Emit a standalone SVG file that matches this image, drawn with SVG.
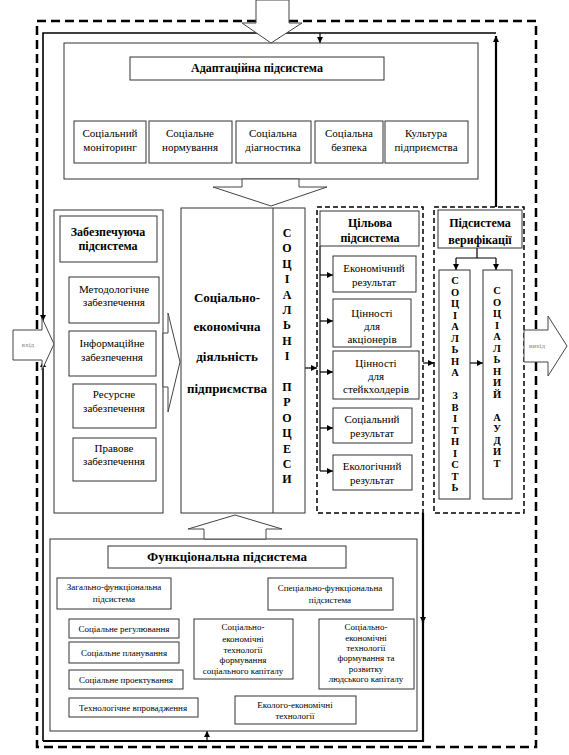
<svg xmlns="http://www.w3.org/2000/svg" width="569" height="755" viewBox="0 0 569 755">
<defs>
<style>
.box{fill:#fff;stroke:#333;stroke-width:1}
.t{font-family:"Liberation Serif","Times New Roman",serif;font-size:11px;text-anchor:middle;fill:#000}
.b{font-weight:bold}
.s{font-size:9px}
.vt{font-family:"Liberation Serif","Times New Roman",serif;font-weight:bold;text-anchor:middle;fill:#000}
.c{stroke:#000;stroke-width:1.2;fill:none}
.th{stroke:#000;stroke-width:2.2;fill:none}
.blk{fill:#fff;stroke:#444;stroke-width:1}
.dsh{fill:none;stroke:#000;stroke-width:1.5;stroke-dasharray:5 3}
.io{font-family:"Liberation Serif",serif;font-size:7px;text-anchor:middle;fill:#888}
</style>
<marker id="ah" viewBox="0 0 10 10" refX="10" refY="5" markerWidth="7" markerHeight="6" markerUnits="userSpaceOnUse" orient="auto"><path d="M0,0L10,5L0,10z" fill="#000"/></marker>
</defs>
<rect width="569" height="755" fill="#fff"/>

<g id="outer-frame">
<rect x="37" y="21" width="499" height="726" fill="none" stroke="#000" stroke-width="2.5" stroke-dasharray="9 5"/>
</g>

<g id="connectors">
<path class="th" d="M496,207 V36" marker-end="url(#ah)"/>
<path class="c" d="M496,33 H43 V321" marker-end="url(#ah)" style="stroke-width:1.6"/>
<path class="c" d="M320,33 V43" marker-end="url(#ah)"/>
<path class="th" d="M423,513 V623" marker-end="url(#ah)"/>
<path class="th" d="M423,620 V741 H43"/>
<path class="c" d="M43,741 V361" marker-end="url(#ah)" style="stroke-width:1.6"/>
<path class="c" d="M207,741 V731" marker-end="url(#ah)"/>
<path class="c" d="M245,80 V99 M115,99 H439"/>
<path class="c" d="M115,99 V121" marker-end="url(#ah)"/>
<path class="c" d="M194,99 V121" marker-end="url(#ah)"/>
<path class="c" d="M270,99 V121" marker-end="url(#ah)"/>
<path class="c" d="M350,99 V121" marker-end="url(#ah)"/>
<path class="c" d="M439,99 V121" marker-end="url(#ah)"/>
<path class="c" d="M60,262 V466"/>
<path class="c" d="M60,297 H69" marker-end="url(#ah)"/>
<path class="c" d="M60,344 H69" marker-end="url(#ah)"/>
<path class="c" d="M60,400 H73" marker-end="url(#ah)"/>
<path class="c" d="M60,466 H73" marker-end="url(#ah)"/>
<path class="c" d="M305,368 H317" marker-end="url(#ah)"/>
<path class="c" d="M320,246 V471"/>
<path class="c" d="M320,275 H333" marker-end="url(#ah)"/>
<path class="c" d="M320,321 H333" marker-end="url(#ah)"/>
<path class="c" d="M320,372 H333" marker-end="url(#ah)"/>
<path class="c" d="M320,428 H333" marker-end="url(#ah)"/>
<path class="c" d="M320,471 H333" marker-end="url(#ah)"/>
<path class="c" d="M423,363 H434" marker-end="url(#ah)"/>
<path class="c" d="M477,248 V258 M456,258 H496"/>
<path class="c" d="M456,258 V270" marker-end="url(#ah)"/>
<path class="c" d="M496,258 V270" marker-end="url(#ah)"/>
<path class="c" d="M470,363 H483" marker-end="url(#ah)"/>
<path class="c" d="M173,568 L148,577" marker-end="url(#ah)"/>
<path class="c" d="M258,568 L295,578" marker-end="url(#ah)"/>
<path class="c" d="M57,609 V707"/>
<path class="c" d="M57,632 H69" marker-end="url(#ah)"/>
<path class="c" d="M57,653 H69" marker-end="url(#ah)"/>
<path class="c" d="M57,679 H69" marker-end="url(#ah)"/>
<path class="c" d="M57,707 H69" marker-end="url(#ah)"/>
<path class="c" d="M308,610 V696" marker-end="url(#ah)"/>
<path class="c" d="M308,638 H293" marker-end="url(#ah)"/>
<path class="c" d="M308,650 H319" marker-end="url(#ah)"/>
</g>

<g id="adaptation">
<rect class="box" x="64" y="43" width="414" height="136"/>
<rect class="box" x="130" y="57" width="254" height="23"/>
<text class="t b" x="257" y="72" style="font-size:12px">Адаптаційна  підсистема</text>
<rect class="box" x="74" y="121" width="72" height="42"/>
<text class="t" x="110" y="137">Соціальний</text><text class="t" x="110" y="151">моніторинг</text>
<rect class="box" x="149" y="121" width="83" height="42"/>
<text class="t" x="190" y="137">Соціальне</text><text class="t" x="190" y="151">нормування</text>
<rect class="box" x="236" y="121" width="75" height="42"/>
<text class="t" x="273" y="137">Соціальна</text><text class="t" x="273" y="151">діагностика</text>
<rect class="box" x="315" y="121" width="68" height="42"/>
<text class="t" x="349" y="137">Соціальна</text><text class="t" x="349" y="151">безпека</text>
<rect class="box" x="385" y="121" width="83" height="42"/>
<text class="t" x="426" y="137">Культура</text><text class="t" x="426" y="151">підприємства</text>
</g>

<g id="supporting">
<rect class="box" x="54" y="210" width="109" height="303"/>
<rect class="box" x="60" y="216" width="97" height="46"/>
<text class="t b" x="108" y="236" style="font-size:12px">Забезпечуюча</text>
<text class="t b" x="108" y="250" style="font-size:12px">підсистема</text>
<rect class="box" x="69" y="277" width="90" height="46"/>
<text class="t" x="114" y="293">Методологічне</text><text class="t" x="114" y="306">забезпечення</text>
<rect class="box" x="69" y="331" width="87" height="45"/>
<text class="t" x="112" y="347">Інформаційне</text><text class="t" x="112" y="361">забезпечення</text>
<rect class="box" x="73" y="384" width="83" height="44"/>
<text class="t" x="114" y="398">Ресурсне</text><text class="t" x="114" y="412">забезпечення</text>
<rect class="box" x="73" y="438" width="83" height="43"/>
<text class="t" x="114" y="452">Правове</text><text class="t" x="114" y="465">забезпечення</text>
</g>

<g id="central">
<rect class="box" x="181" y="208" width="124" height="305"/>
<line x1="273" y1="208" x2="273" y2="513" stroke="#333"/>
<text class="t b" x="227" y="302" style="font-size:13px">Соціально-</text>
<text class="t b" x="227" y="331" style="font-size:13px">економічна</text>
<text class="t b" x="227" y="361" style="font-size:13px">діяльність</text>
<text class="t b" x="227" y="393" style="font-size:13px">підприємства</text>
<text class="vt" style="font-size:12px"><tspan x="287" y="237">С</tspan><tspan x="287" y="252.4">О</tspan><tspan x="287" y="267.8">Ц</tspan><tspan x="287" y="283.2">І</tspan><tspan x="287" y="298.6">А</tspan><tspan x="287" y="314">Л</tspan><tspan x="287" y="329.4">Ь</tspan><tspan x="287" y="344.8">Н</tspan><tspan x="287" y="360.2">І</tspan><tspan x="287" y="391">П</tspan><tspan x="287" y="406.4">Р</tspan><tspan x="287" y="421.8">О</tspan><tspan x="287" y="437.2">Ц</tspan><tspan x="287" y="452.6">Е</tspan><tspan x="287" y="468">С</tspan><tspan x="287" y="483.4">И</tspan></text>
</g>

<g id="target">
<rect class="dsh" x="317" y="207" width="106" height="306"/>
<rect class="box" x="320" y="211" width="99" height="35"/>
<text class="t b" x="370" y="227" style="font-size:12px">Цільова</text>
<text class="t b" x="370" y="242" style="font-size:12px">підсистема</text>
<rect class="box" x="333" y="256" width="83" height="36"/>
<text class="t" x="374" y="272">Економічний</text><text class="t" x="374" y="286">результат</text>
<rect class="box" x="333" y="299" width="78" height="48"/>
<text class="t" x="372" y="317">Цінності</text><text class="t" x="372" y="330">для</text><text class="t" x="372" y="343">акціонерів</text>
<rect class="box" x="333" y="351" width="86" height="48"/>
<text class="t" x="376" y="367">Цінності</text><text class="t" x="376" y="380">для</text><text class="t" x="376" y="393">стейкхолдерів</text>
<rect class="box" x="333" y="408" width="79" height="35"/>
<text class="t" x="372" y="423">Соціальний</text><text class="t" x="372" y="437">результат</text>
<rect class="box" x="333" y="455" width="79" height="35"/>
<text class="t" x="372" y="470">Екологічний</text><text class="t" x="372" y="484">результат</text>
</g>

<g id="verification">
<rect class="dsh" x="434" y="207" width="90" height="306"/>
<rect class="box" x="438" y="210" width="84" height="38"/>
<text class="t b" x="480" y="227" style="font-size:12px">Підсистема</text>
<text class="t b" x="480" y="244" style="font-size:12px">верифікації</text>
<rect class="box" x="439" y="270" width="31" height="229"/>
<text class="vt" style="font-size:10.5px"><tspan x="455" y="284">С</tspan><tspan x="455" y="295.5">О</tspan><tspan x="455" y="307">Ц</tspan><tspan x="455" y="318.5">І</tspan><tspan x="455" y="330">А</tspan><tspan x="455" y="341.5">Л</tspan><tspan x="455" y="353">Ь</tspan><tspan x="455" y="364.5">Н</tspan><tspan x="455" y="376">А</tspan><tspan x="455" y="399">З</tspan><tspan x="455" y="410.5">В</tspan><tspan x="455" y="422">І</tspan><tspan x="455" y="433.5">Т</tspan><tspan x="455" y="445">Н</tspan><tspan x="455" y="456.5">І</tspan><tspan x="455" y="468">С</tspan><tspan x="455" y="479.5">Т</tspan><tspan x="455" y="491">Ь</tspan></text>
<rect class="box" x="483" y="270" width="29" height="229"/>
<text class="vt" style="font-size:10.5px"><tspan x="497" y="294">С</tspan><tspan x="497" y="305.5">О</tspan><tspan x="497" y="317">Ц</tspan><tspan x="497" y="328.5">І</tspan><tspan x="497" y="340">А</tspan><tspan x="497" y="351.5">Л</tspan><tspan x="497" y="363">Ь</tspan><tspan x="497" y="374.5">Н</tspan><tspan x="497" y="386">И</tspan><tspan x="497" y="397.5">Й</tspan><tspan x="497" y="420.5">А</tspan><tspan x="497" y="432">У</tspan><tspan x="497" y="443.5">Д</tspan><tspan x="497" y="455">И</tspan><tspan x="497" y="466.5">Т</tspan></text>
</g>

<g id="functional">
<rect class="box" x="50" y="539" width="367" height="192"/>
<rect class="box" x="108" y="546" width="238" height="22"/>
<text class="t b" x="227" y="561" style="font-size:13px">Функціональна підсистема</text>
<rect class="box" x="57" y="578" width="114" height="31"/>
<text class="t s" x="114" y="590">Загально-функціональна</text><text class="t s" x="114" y="602">підсистема</text>
<rect class="box" x="69" y="619" width="110" height="19"/>
<text class="t s" x="124" y="632">Соціальне регулювання</text>
<rect class="box" x="69" y="642" width="110" height="21"/>
<text class="t s" x="124" y="656">Соціальне планування</text>
<rect class="box" x="69" y="670" width="114" height="19"/>
<text class="t s" x="126" y="683">Соціальне проектування</text>
<rect class="box" x="69" y="698" width="129" height="19"/>
<text class="t s" x="133" y="711">Технологічне впровадження</text>
<rect class="box" x="194" y="619" width="99" height="60"/>
<text class="t s" x="243" y="630">Соціально-</text><text class="t s" x="243" y="642">економічні</text><text class="t s" x="243" y="653">технології</text><text class="t s" x="243" y="663">формування</text><text class="t s" x="243" y="674">соціального капіталу</text>
<rect class="box" x="268" y="578" width="125" height="32"/>
<text class="t s" x="330" y="591">Спеціально-функціональна</text><text class="t s" x="330" y="603">підсистема</text>
<rect class="box" x="319" y="619" width="95" height="70"/>
<text class="t s" x="366" y="630">Соціально-</text><text class="t s" x="366" y="641">економічні</text><text class="t s" x="366" y="651">технології</text><text class="t s" x="366" y="661">формування та</text><text class="t s" x="366" y="672">розвитку</text><text class="t s" x="366" y="682">людського капіталу</text>
<rect class="box" x="235" y="696" width="121" height="28"/>
<text class="t s" x="295" y="708">Еколого-економічні</text><text class="t s" x="295" y="719">технології</text>
</g>

<g id="block-arrows">
<polygon class="blk" points="256,0 289,0 289,23 302,23 271,43 242,23 256,23"/>
<polygon class="blk" points="242,179 242,187 213,187 271,206 327,187 299,187 299,179"/>
<polygon class="blk" points="163,333 168,333 168,313 180,362 168,412 168,387 163,387"/>
<polygon class="blk" points="204,539 204,529 188,529 235,515 282,529 266,529 266,539"/>
</g>

<g id="input">
<polygon class="blk" points="13,330 42,330 42,318 54,344 42,370 42,360 13,360"/>
<text class="io" x="28" y="347">вхід</text>
</g>
<g id="output">
<polygon class="blk" points="524,330 548,330 548,316 567,346 548,376 548,362 524,362"/>
<text class="io" x="537" y="348">вихід</text>
</g>
</svg>
